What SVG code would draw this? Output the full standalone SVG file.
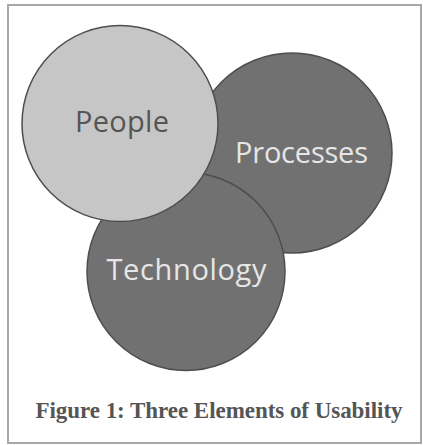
<svg xmlns="http://www.w3.org/2000/svg" width="423" height="445" viewBox="0 0 423 445">
  <style>
    .frame { fill: #ffffff; stroke: #a8a8a8; stroke-width: 2; }
    .circle { stroke: #4e4e4e; stroke-width: 1.5; }
    .dark { fill: #717171; }
    .light { fill: #c6c6c6; }
    .label { font-family: "Open Sans", "Noto Sans", sans-serif; font-size: 29px; text-anchor: middle; }
    .label-dark { fill: #555555; }
    .label-light { fill: #e6e6e6; }
    .caption { font-family: "Liberation Serif", "Times New Roman", serif; font-weight: bold; font-size: 23px; fill: #555555; text-anchor: middle; }
  </style>

  <rect width="423" height="445" fill="#ffffff"/>
  <rect class="frame" x="8" y="5" width="413" height="438"/>

  <g id="connectors"></g>

  <!-- back circle -->
  <g id="processes">
    <circle class="circle dark" cx="292" cy="153" r="100"/>
    <text class="label label-light" x="301.5" y="163" textLength="133">Processes</text>
  </g>

  <!-- middle circle -->
  <g id="technology">
    <circle class="circle dark" cx="186" cy="271.5" r="99"/>
    <text class="label label-light" x="186.5" y="280" textLength="160">Technology</text>
  </g>

  <!-- front circle -->
  <g id="people">
    <circle class="circle light" cx="120" cy="123.5" r="98"/>
    <text class="label label-dark" x="122" y="132" textLength="94">People</text>
  </g>

  <text class="caption" x="219" y="418" textLength="367">Figure 1: Three Elements of Usability</text>
</svg>
